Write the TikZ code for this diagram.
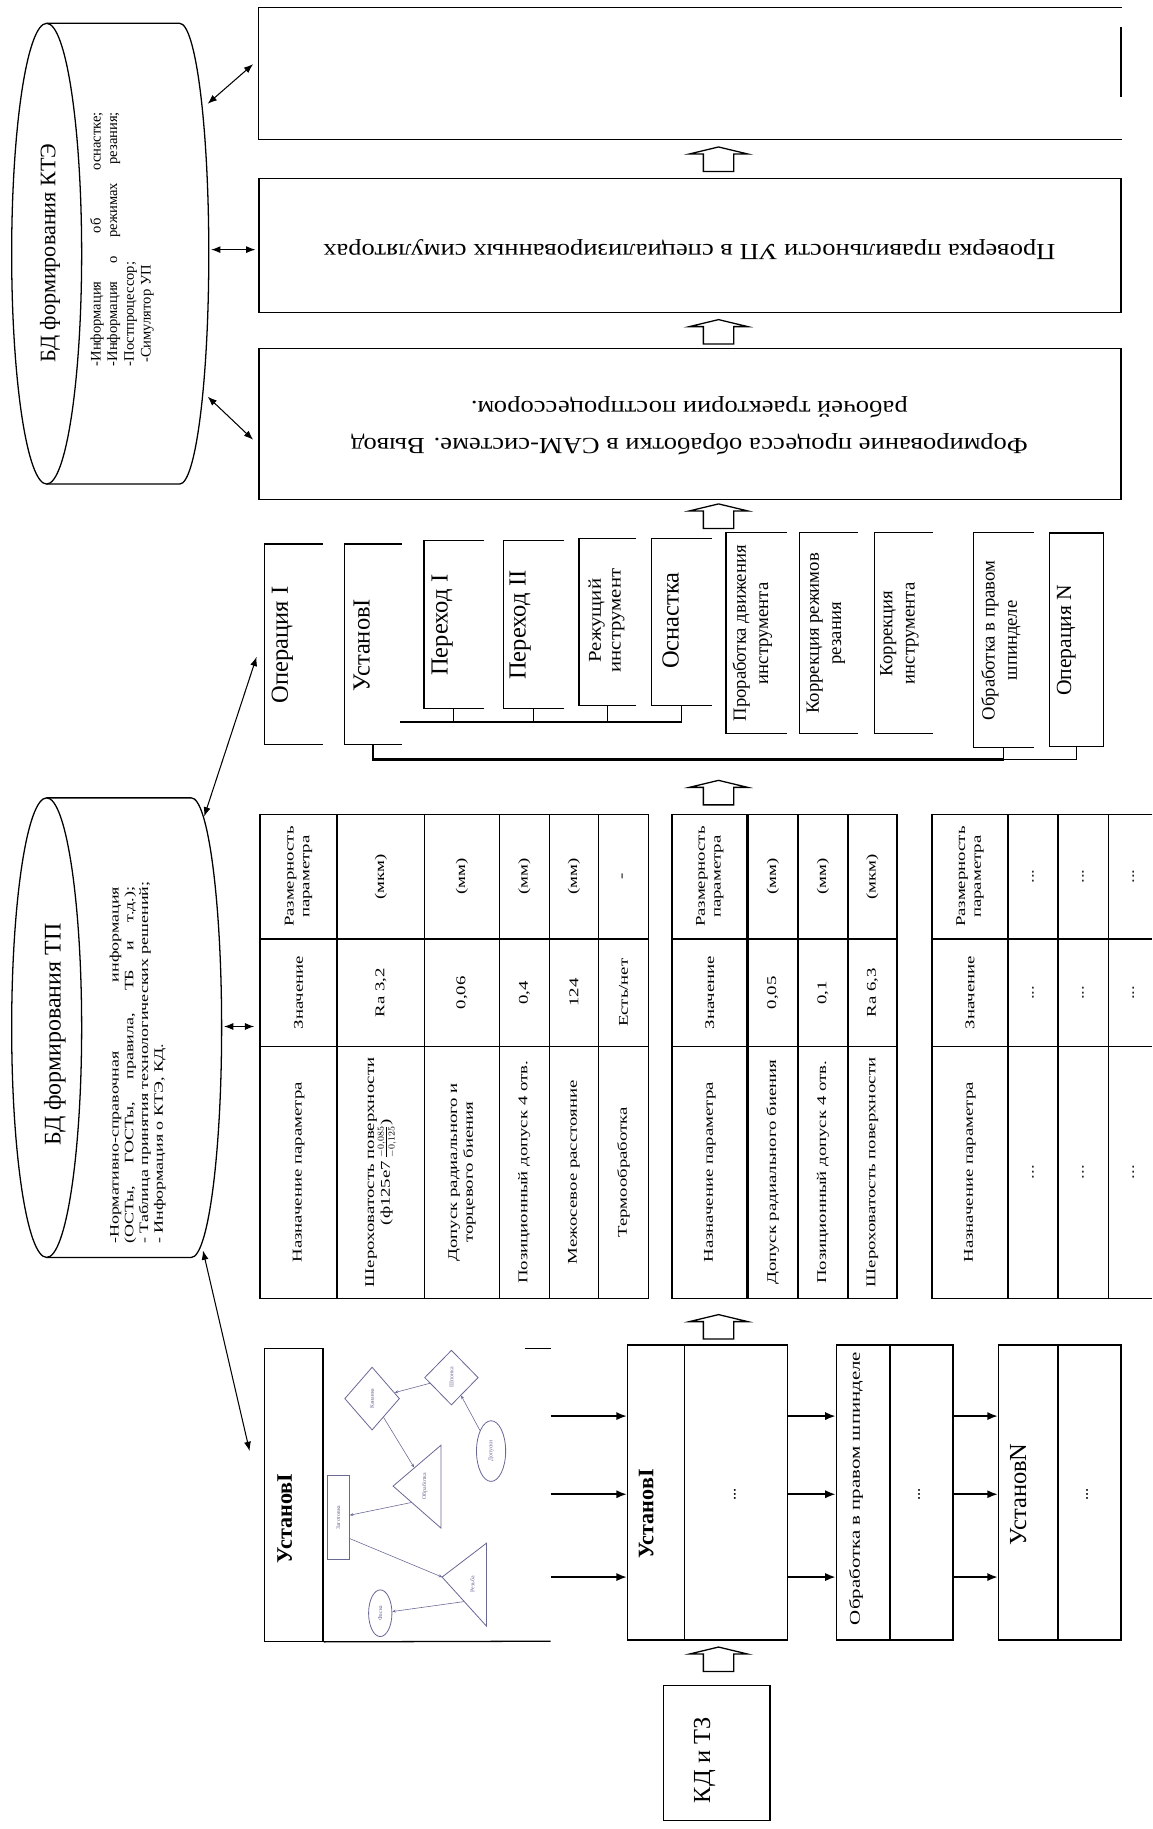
\documentclass[tikz,border=0pt]{standalone}
\usepackage{fontspec}
\setmainfont{Liberation Serif}
\newfontfamily\widefont[FakeStretch=1.4]{Liberation Serif}
\newfontfamily\midfont[FakeStretch=1.15]{Liberation Serif}
\usetikzlibrary{arrows.meta,shapes.geometric,fit}

\definecolor{graphc}{RGB}{105,105,150}
\newcommand\tabf{\widefont\fontsize{11.5}{13.5}\selectfont}
\newcommand\bigf{\fontsize{21}{24}\selectfont}
\newcommand\opf{\fontsize{16}{19}\selectfont}

\tikzset{every picture/.style={line width=1.1pt}}
\tikzset{
  vtxt/.style={rotate=90, align=center, inner sep=0pt},
  blk/.style={draw, inner sep=0pt},
  nobox/.style={inner sep=0pt},
  dbl/.style={{Latex[length=8pt,width=6pt]}-{Latex[length=8pt,width=6pt]}, line width=0.9pt},
  flow/.style={-{Latex[length=9pt,width=7pt]}, line width=1.6pt},
  gedge/.style={-{Stealth[length=3pt,width=2.5pt]}, draw=graphc, line width=0.5pt},
  gshape/.style={draw=graphc, line width=0.7pt, inner sep=0pt, font=\fontsize{4}{4.5}\selectfont, text=graphc},
  uparr/.pic={\draw[line width=1.1pt] (-13,-21) -- (-13,-6) -- (-25,-6) -- (0,0) -- (25,-6) -- (13,-6) -- (13,-21) -- cycle;}
}

\begin{document}
\begin{tikzpicture}[x=1pt,y=1pt,yscale=-1,xscale=1]
\useasboundingbox (0,0) rectangle (988,1568);

%Shape: Can [KTE]
\draw (40,217.5) ellipse [x radius=30, y radius=197.5];
\draw (40,20) -- (154,20) arc [start angle=-90, end angle=90, x radius=25, y radius=197.5] -- (40,415);
% Text Node
\draw (43,217) node (kteT) [vtxt, font=\fontsize{19}{22}\selectfont] {БД формирования КТЭ};
% Text Node
\draw (104.5,205) node (kteL) [rotate=90, align=left, inner sep=0pt, font=\fontsize{12.5}{14.3}\selectfont]
  {\makebox[218pt][s]{-Информация об оснастке;}\\ \makebox[218pt][s]{-Информация о режимах резания;}\\ -Постпроцессор;\\ \ -Симулятор УП};

%Shape: Can [TP]
\draw (40,881) ellipse [x radius=30, y radius=197];
\draw (40,684) -- (164,684) arc [start angle=-90, end angle=90, x radius=26, y radius=197] -- (40,1078);
% Text Node
\draw (47,887) node (tpT) [vtxt, font=\fontsize{20.5}{24}\selectfont] {БД формирования ТП};
% Text Node
\draw (118,911) node (tpL) [rotate=90, align=left, inner sep=0pt, font=\widefont\fontsize{11}{12.6}\selectfont]
  {\makebox[306pt][s]{-Нормативно-справочная информация}\\ \makebox[306pt][s]{(ОСТы, ГОСТы, правила, ТБ и т.д.);}\\ - Таблица принятия технологических решений;\\ - Информация о КТЭ, КД.};

%Shape: Rectangle [top]
\node (boxA) [nobox, fit={(222,7) (961,119)}] {};
\draw (boxA.north east) -- (boxA.north west) -- (boxA.south west) -- (boxA.south east);
\draw (961,23) -- (961,83);
%Shape: Rectangle
\node (boxB) [blk, fit={(222,153) (961,268)}] {};
%Shape: Rectangle
\node (boxC) [blk, fit={(222,299) (961,428)}] {};
% Text Node
\draw (591,214) node (boxBt) [rotate=180, inner sep=0pt, font=\midfont\fontsize{19.8}{23}\selectfont] {Проверка правильности УП в специализированных симуляторах};
% Text Node
\draw (591,365) node (boxCt) [rotate=180, align=center, inner sep=0pt, font=\midfont\fontsize{19.8}{31}\selectfont] {Формирование процесса обработки в CAM-системе. Вывод\\рабочей траектории постпроцессором.};

%Block Arrows
\pic at (616,126) {uparr};
\pic at (616,274) {uparr};
\pic at (616,432) {uparr};
\pic at (616,669) {uparr};
\pic at (616,1127) {uparr};
\pic at (616,1412) {uparr};

%Double arrows from the databases
\coordinate (k1) at (178,89);   \coordinate (k1e) at (217,55);
\coordinate (k2) at (181,214);  \coordinate (k2e) at (219,214);
\coordinate (k3) at (178,340);  \coordinate (k3e) at (217,377);
\coordinate (p1) at (175,700);  \coordinate (p1e) at (220,563);
\coordinate (p2) at (192,880);  \coordinate (p2e) at (218,880);
\coordinate (p3) at (174,1072); \coordinate (p3e) at (214,1244);
\draw [dbl] (k1) -- (k1e);
\draw [dbl] (k2) -- (k2e);
\draw [dbl] (k3) -- (k3e);
\draw [dbl] (p1) -- (p1e);
\draw [dbl] (p2) -- (p2e);
\draw [dbl] (p3) -- (p3e);

%Operations
\node (opI) [nobox, fit={(227,467) (276,638)}] {};
\draw (opI.north east) -- (opI.north west) -- (opI.south west) -- (opI.south east);
\node (ustI) [nobox, fit={(296,467) (344,638)}] {};
\draw (ustI.north east) -- (ustI.north west) -- (ustI.south west) -- (ustI.south east);
\node (perI) [nobox, fit={(364,464) (414,607)}] {};
\draw (perI.north east) -- (perI.north west) -- (perI.south west) -- (perI.south east);
\node (perII) [nobox, fit={(432,464) (483,607)}] {};
\draw (perII.north east) -- (perII.north west) -- (perII.south west) -- (perII.south east);
\node (rezh) [nobox, fit={(497,462) (545,604)}] {};
\draw (rezh.north east) -- (rezh.north west) -- (rezh.south west) -- (rezh.south east);
\node (osn) [nobox, fit={(559,462) (610,604)}] {};
\draw (osn.north east) -- (osn.north west) -- (osn.south west) -- (osn.south east);
\node (prorab) [nobox, fit={(623,457) (674,628)}] {};
\draw (prorab.north east) -- (prorab.north west) -- (prorab.south west) -- (prorab.south east);
\node (korrR) [nobox, fit={(686,457) (735,628)}] {};
\draw (korrR.north east) -- (korrR.north west) -- (korrR.south west) -- (korrR.south east);
\node (korrI) [nobox, fit={(750,457) (799,628)}] {};
\draw (korrI.north east) -- (korrI.north west) -- (korrI.south west) -- (korrI.south east);
\node (obrR) [nobox, fit={(835,457) (886,640)}] {};
\draw (obrR.north east) -- (obrR.north west) -- (obrR.south west) -- (obrR.south east);
\node (opN) [blk, fit={(900,457) (946,640)}] {};

% Text Node
\draw (242,553) node (opIt) [vtxt, font=\bigf] {Операция I};
\draw (310,553) node (ustIt) [vtxt, font=\bigf] {УстановI};
\draw (379,536) node (perIt) [vtxt, font=\bigf] {Переход I};
\draw (446,536) node (perIIt) [vtxt, font=\bigf] {Переход II};
\draw (520,532) node (rezht) [vtxt, font=\midfont\fontsize{15.5}{17}\selectfont] {Режущий\\инструмент};
\draw (575,532) node (osnt) [vtxt, font=\bigf] {Оснастка};
\draw (645,543) node (prorabt) [vtxt, font=\opf] {Проработка движения\\инструмента};
\draw (708,543) node (korrRt) [vtxt, font=\opf] {Коррекция режимов\\резания};
\draw (771,543) node (korrIt) [vtxt, font=\opf] {Коррекция\\инструмента};
\draw (858,549) node (obrRt) [vtxt, font=\opf] {Обработка в правом\\шпинделе};
\draw (914,549) node (opNt) [vtxt, font=\fontsize{18.5}{21}\selectfont] {Операция N};

%Bus lines
\coordinate (bus1) at (343,619);
\draw (bus1) -- (osn.south |- bus1) -- (osn.south);
\draw (perI.south) -- (perI.south |- bus1);
\draw (perII.south) -- (perII.south |- bus1);
\draw (rezh.south) -- (rezh.south |- bus1);
\coordinate (bus2) at (320,651);
\draw [line width=2pt] (ustI.south) -- (ustI.south |- bus2) -- (obrR.south |- bus2);
\draw (obrR.south) -- (obrR.south |- bus2) -- (opN.south |- bus2) -- (opN.south);

%Table 1
\draw (223,698) rectangle (556,1113);
\draw [line width=2.2pt] (223,698) -- (223,1113);
\draw [line width=2.2pt] (289,698) -- (289,1113);
\draw (364,698) -- (364,1113);
\draw (428,698) -- (428,1113);
\draw (471,698) -- (471,1113);
\draw (513,698) -- (513,1113);
\draw (223,805) -- (556,805);
\draw (223,897) -- (556,897);
% Text Node
\draw (256,1005) node (t1n0) [vtxt, font=\tabf] {Назначение параметра};
\draw (256,851) node (t1v0) [vtxt, font=\tabf] {Значение};
\draw (256,751.5) node (t1d0) [vtxt, font=\tabf] {Размерность\\параметра};
\draw (326.5,1005) node (t1n1) [vtxt, font=\tabf] {Шероховатость поверхности\\(ф125e7\,$\frac{-0{,}085}{-0{,}125}$)};
\draw (326.5,851) node (t1v1) [vtxt, font=\tabf] {Ra 3,2};
\draw (326.5,751.5) node (t1d1) [vtxt, font=\tabf] {(мкм)};
\draw (396,1005) node (t1n2) [vtxt, font=\tabf] {Допуск радиального и\\торцевого биения};
\draw (396,851) node (t1v2) [vtxt, font=\tabf] {0,06};
\draw (396,751.5) node (t1d2) [vtxt, font=\tabf] {(мм)};
\draw (449.5,1005) node (t1n3) [vtxt, font=\tabf] {Позиционный допуск 4 отв.};
\draw (449.5,851) node (t1v3) [vtxt, font=\tabf] {0,4};
\draw (449.5,751.5) node (t1d3) [vtxt, font=\tabf] {(мм)};
\draw (492,1005) node (t1n4) [vtxt, font=\tabf] {Межосевое расстояние};
\draw (492,851) node (t1v4) [vtxt, font=\tabf] {124};
\draw (492,751.5) node (t1d4) [vtxt, font=\tabf] {(мм)};
\draw (534.5,1005) node (t1n5) [vtxt, font=\tabf] {Термообработка};
\draw (534.5,851) node (t1v5) [vtxt, font=\tabf] {Есть/нет};
\draw (534.5,751.5) node (t1d5) [vtxt, font=\tabf] {-};

%Table 2
\draw (576,698) rectangle (769,1113);
\draw [line width=2.2pt] (576,698) -- (576,1113);
\draw [line width=2.2pt] (641,698) -- (641,1113);
\draw (684,698) -- (684,1113);
\draw (727,698) -- (727,1113);
\draw (576,805) -- (769,805);
\draw (576,897) -- (769,897);
% Text Node
\draw (608.5,1005) node (t2n0) [vtxt, font=\tabf] {Назначение параметра};
\draw (608.5,851) node (t2v0) [vtxt, font=\tabf] {Значение};
\draw (608.5,751.5) node (t2d0) [vtxt, font=\tabf] {Размерность\\параметра};
\draw (662.5,1005) node (t2n1) [vtxt, font=\tabf] {Допуск радиального биения};
\draw (662.5,851) node (t2v1) [vtxt, font=\tabf] {0,05};
\draw (662.5,751.5) node (t2d1) [vtxt, font=\tabf] {(мм)};
\draw (705.5,1005) node (t2n2) [vtxt, font=\tabf] {Позиционный допуск 4 отв.};
\draw (705.5,851) node (t2v2) [vtxt, font=\tabf] {0,1};
\draw (705.5,751.5) node (t2d2) [vtxt, font=\tabf] {(мм)};
\draw (748,1005) node (t2n3) [vtxt, font=\tabf] {Шероховатость поверхности};
\draw (748,851) node (t2v3) [vtxt, font=\tabf] {Ra 6,3};
\draw (748,751.5) node (t2d3) [vtxt, font=\tabf] {(мкм)};

%Table 3
\draw (988,698) -- (799,698) -- (799,1113) -- (988,1113);
\draw [line width=2.2pt] (799,698) -- (799,1113);
\draw [line width=2.2pt] (864,698) -- (864,1113);
\draw (907,698) -- (907,1113);
\draw (950,698) -- (950,1113);
\draw (799,805) -- (988,805);
\draw (799,897) -- (988,897);
% Text Node
\draw (831.5,1005) node (t3n0) [vtxt, font=\tabf] {Назначение параметра};
\draw (831.5,851) node (t3v0) [vtxt, font=\tabf] {Значение};
\draw (831.5,751.5) node (t3d0) [vtxt, font=\tabf] {Размерность\\параметра};
\draw (885.5,1005) node (t3n1) [vtxt, font=\tabf] {...};
\draw (885.5,851) node (t3v1) [vtxt, font=\tabf] {...};
\draw (885.5,751.5) node (t3d1) [vtxt, font=\tabf] {...};
\draw (928.5,1005) node (t3n2) [vtxt, font=\tabf] {...};
\draw (928.5,851) node (t3v2) [vtxt, font=\tabf] {...};
\draw (928.5,751.5) node (t3d2) [vtxt, font=\tabf] {...};
\draw (971.5,1005) node (t3n3) [vtxt, font=\tabf] {...};
\draw (971.5,851) node (t3v3) [vtxt, font=\tabf] {...};
\draw (971.5,751.5) node (t3d3) [vtxt, font=\tabf] {...};

%Setup with graph
\node (ustIg) [blk, fit={(227,1156) (277,1407)}] {};
\draw (ustIg.south east) -- (472,1407);
\draw (450,1156) -- (472,1156);
\draw (244,1302) node (ustIgt) [vtxt, font=\bfseries\fontsize{19}{22}\selectfont] {УстановI};

%Small graph
\draw [draw=graphc, line width=0.7pt] (337,1274) -- (378,1239) -- (378,1310) -- cycle;
\draw [draw=graphc, line width=0.7pt] (379,1352) -- (417,1323) -- (417,1394) -- cycle;
\node (grR) [gshape, rectangle, minimum width=19pt, minimum height=72pt] at (290,1301) {};
\node (grC) [gshape, ellipse, minimum width=20pt, minimum height=40pt] at (326,1383) {};
\node (grD) [gshape, ellipse, minimum width=25pt, minimum height=52pt] at (421,1244) {};
\node (grE) [gshape, diamond, minimum width=47pt, minimum height=54pt] at (319,1199) {};
\node (grF) [gshape, diamond, minimum width=46pt, minimum height=47pt] at (387,1181) {};
\draw (290,1301) node (grRt) [vtxt, text=graphc, font=\fontsize{5}{5.5}\selectfont] {Заготовка};
\draw (364,1274) node (grAt) [vtxt, text=graphc, font=\fontsize{5}{5.5}\selectfont] {Обработка};
\draw (405,1358) node (grBt) [vtxt, text=graphc, font=\fontsize{5}{5.5}\selectfont] {Резьба};
\draw (326,1383) node (grCt) [vtxt, text=graphc, font=\fontsize{5}{5.5}\selectfont] {Фаска};
\draw (421,1244) node (grDt) [vtxt, text=graphc, font=\fontsize{5}{5.5}\selectfont] {Допуски};
\draw (319,1199) node (grEt) [vtxt, text=graphc, font=\fontsize{5}{5.5}\selectfont] {Канавка};
\draw (387,1181) node (grFt) [vtxt, text=graphc, font=\fontsize{5}{5.5}\selectfont] {Шпонка};
\coordinate (gA1) at (353,1288);
\coordinate (gA2) at (355,1258);
\coordinate (gB1) at (379,1352);
\coordinate (gB2) at (398,1373);
\draw [gedge] (gA1) -- (grR);
\draw [gedge] (grR.east |- 0,1319) -- (gB1);
\draw [gedge] (gB2) -- (grC);
\draw [gedge] (grE) -- (gA2);
\draw [gedge] (grF) -- (grE);
\draw [gedge] (grD) -- (grF);

%Setups
\node (ustIm) [blk, fit={(538,1153) (675,1406)}] {};
\draw (587,1153) -- (587,1406);
\draw (554,1298) node (ustImt) [vtxt, font=\bfseries\fontsize{19}{22}\selectfont] {УстановI};
\draw (630,1281) node (ustImd) [vtxt, font=\fontsize{14}{16}\selectfont] {...};
\node (obrB) [blk, fit={(717,1153) (817,1406)}] {};
\draw (763,1153) -- (763,1406);
\draw (734,1276) node (obrBt) [vtxt, font=\widefont\fontsize{12.8}{16}\selectfont] {Обработка в правом шпинделе};
\draw (788,1281) node (obrBd) [vtxt, font=\fontsize{14}{16}\selectfont] {...};
\node (ustN) [blk, fit={(856,1153) (961,1406)}] {};
\draw (907,1153) -- (907,1406);
\draw (873,1281) node (ustNt) [vtxt, font=\fontsize{21}{24}\selectfont] {УстановN};
\draw (932,1281) node (ustNd) [vtxt, font=\fontsize{14}{16}\selectfont] {...};
\node (kdtz) [blk, fit={(569,1445) (660,1561)}] {};
\draw (604,1509) node (kdtzt) [vtxt, font=\bigf] {КД и ТЗ};

%Flow arrows
\coordinate (g1) at (472,1214);
\coordinate (g2) at (472,1281);
\coordinate (g3) at (472,1352);
\draw [flow] (g1) -- (ustIm.west |- g1);
\draw [flow] (g2) -- (ustIm.west |- g2);
\draw [flow] (g3) -- (ustIm.west |- g3);
\draw [flow] (ustIm.east |- g1) -- (obrB.west |- g1);
\draw [flow] (ustIm.east |- g2) -- (obrB.west |- g2);
\draw [flow] (ustIm.east |- g3) -- (obrB.west |- g3);
\draw [flow] (obrB.east |- g1) -- (ustN.west |- g1);
\draw [flow] (obrB.east |- g2) -- (ustN.west |- g2);
\draw [flow] (obrB.east |- g3) -- (ustN.west |- g3);

\end{tikzpicture}
\end{document}
